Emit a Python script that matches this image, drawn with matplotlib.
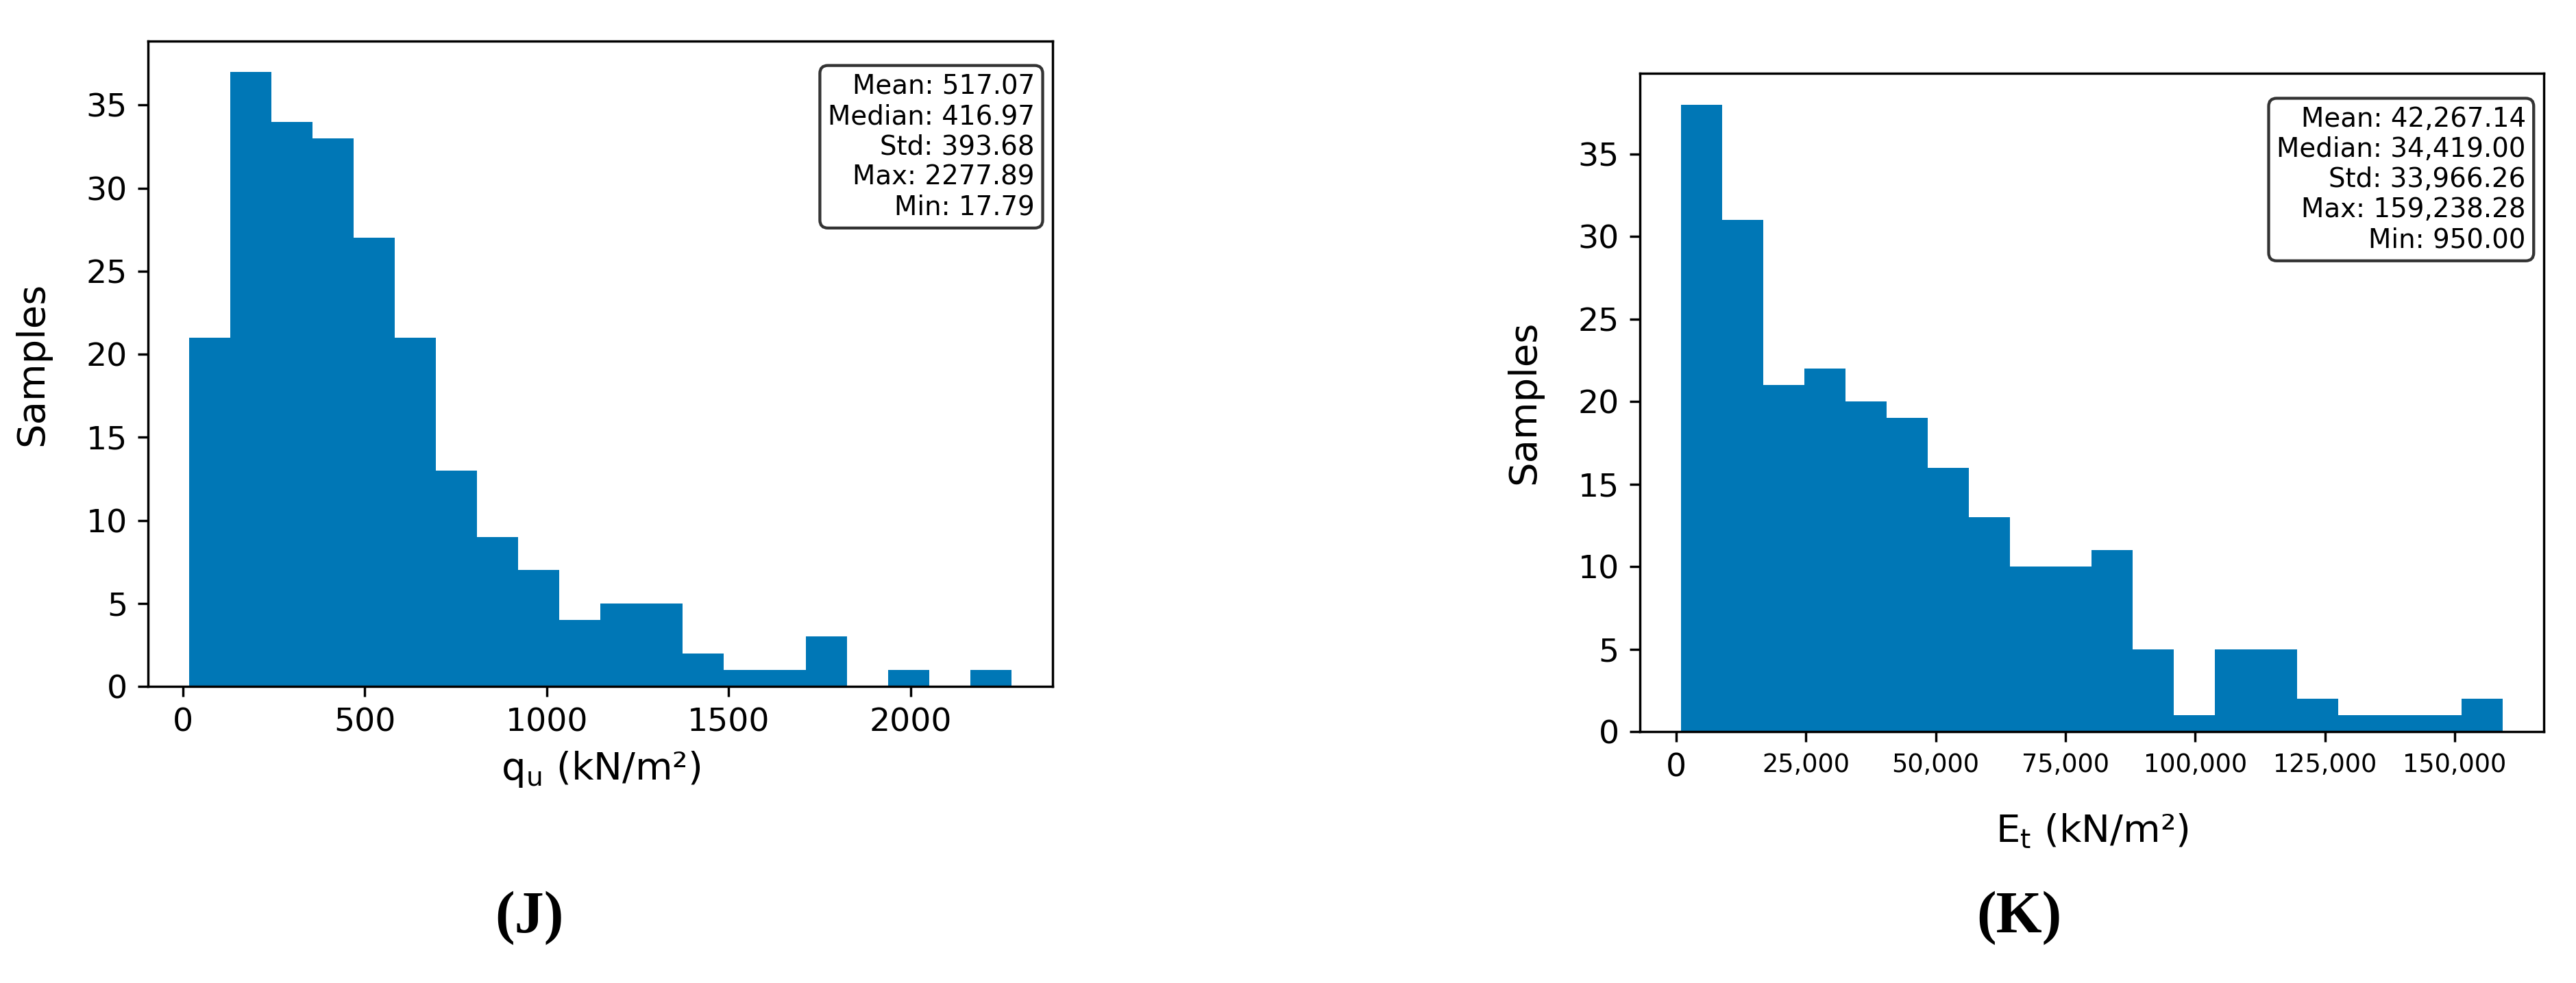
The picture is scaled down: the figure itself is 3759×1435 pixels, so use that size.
import numpy as np
import matplotlib
matplotlib.use("Agg")
import matplotlib.pyplot as plt

# q_u histogram (J)
qu_counts = [21, 37, 34, 33, 27, 21, 13, 9, 7, 4, 5, 5, 2, 1, 1, 3, 0, 1, 0, 1]
qu_min, qu_max = 17.79, 2277.89
qu_stats = [("Mean", 517.07), ("Median", 416.97), ("Std", 393.68),
            ("Max", 2277.89), ("Min", 17.79)]

# E_t histogram (K)
et_counts = [38, 31, 21, 22, 20, 19, 16, 13, 10, 10, 11, 5, 1, 5, 5, 2, 1, 1, 1, 2]
et_min, et_max = 950.0, 159238.28
et_stats = [("Mean", 42267.14), ("Median", 34419.00), ("Std", 33966.26),
            ("Max", 159238.28), ("Min", 950.00)]
et_ticks = [0, 25000, 50000, 75000, 100000, 125000, 150000]
et_ticklabels = ["0", "25,000", "50,000", "75,000", "100,000", "125,000", "150,000"]

bar_color = "#0077b6"
DPI = 310

fig = plt.figure(figsize=(3759 / DPI, 1435 / DPI), dpi=DPI)
ax1 = fig.add_axes([0.0575, 0.3017, 0.3512, 0.6564])
ax2 = fig.add_axes([0.6366, 0.2557, 0.3509, 0.6697])


def draw_hist(ax, counts, vmin, vmax):
    edges = np.linspace(vmin, vmax, len(counts) + 1)
    ax.bar(edges[:-1], counts, width=np.diff(edges), align="edge",
           color=bar_color, linewidth=0)
    ax.tick_params(labelsize=11)
    ax.set_ylabel("Samples", fontsize=13, labelpad=12)


def stats_box(ax, stats, fmt):
    txt = "\n".join(f"{k}: {v:{fmt}}" for k, v in stats)
    ax.text(0.98, 0.95, txt, transform=ax.transAxes, ha="right", va="top",
            fontsize=9, bbox=dict(boxstyle="round", facecolor="white", alpha=0.8))


draw_hist(ax1, qu_counts, qu_min, qu_max)
ax1.set_xlabel(r"q$_\mathregular{u}$ (kN/m²)", fontsize=13)
stats_box(ax1, qu_stats, ".2f")

draw_hist(ax2, et_counts, et_min, et_max)
ax2.set_xticks(et_ticks, et_ticklabels)
for lab in ax2.get_xticklabels():
    if lab.get_text() != "0":
        lab.set_fontsize(8.5)
ax2.set_xlabel(r"E$_\mathregular{t}$ (kN/m²)", fontsize=13, labelpad=10)
stats_box(ax2, et_stats, ",.2f")

fig.text(772 / 3759, 1 - 1340 / 1435, "(J)", ha="center", va="center",
         fontsize=20, fontweight="bold", family="Liberation Serif")
fig.text(2946 / 3759, 1 - 1340 / 1435, "(K)", ha="center", va="center",
         fontsize=20, fontweight="bold", family="Liberation Serif")

fig.savefig("out.png", dpi=DPI)
